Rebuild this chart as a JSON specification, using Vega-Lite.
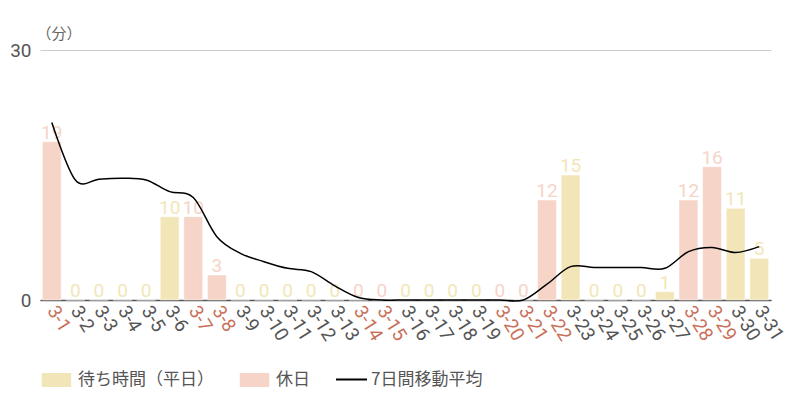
{
  "$schema": "https://vega.github.io/schema/vega-lite/v6.json",
  "autosize": {"type": "none"},
  "width": 731,
  "height": 250,
  "padding": {"left": 40, "top": 50, "right": 29, "bottom": 100},
  "data": {
    "values": [
      {"date": "3-1", "kind": "休日", "value": 19, "ma": 21.3},
      {"date": "3-2", "kind": "待ち時間（平日）", "value": 0, "ma": 14.4},
      {"date": "3-3", "kind": "待ち時間（平日）", "value": 0, "ma": 14.5},
      {"date": "3-4", "kind": "待ち時間（平日）", "value": 0, "ma": 14.6},
      {"date": "3-5", "kind": "待ち時間（平日）", "value": 0, "ma": 14.4},
      {"date": "3-6", "kind": "待ち時間（平日）", "value": 10, "ma": 13.0},
      {"date": "3-7", "kind": "休日", "value": 10, "ma": 12.3},
      {"date": "3-8", "kind": "休日", "value": 3, "ma": 7.6},
      {"date": "3-9", "kind": "待ち時間（平日）", "value": 0, "ma": 5.6},
      {"date": "3-10", "kind": "待ち時間（平日）", "value": 0, "ma": 4.6},
      {"date": "3-11", "kind": "待ち時間（平日）", "value": 0, "ma": 3.8},
      {"date": "3-12", "kind": "待ち時間（平日）", "value": 0, "ma": 3.4},
      {"date": "3-13", "kind": "待ち時間（平日）", "value": 0, "ma": 1.7},
      {"date": "3-14", "kind": "休日", "value": 0, "ma": 0.3},
      {"date": "3-15", "kind": "休日", "value": 0, "ma": 0},
      {"date": "3-16", "kind": "待ち時間（平日）", "value": 0, "ma": 0},
      {"date": "3-17", "kind": "待ち時間（平日）", "value": 0, "ma": 0},
      {"date": "3-18", "kind": "待ち時間（平日）", "value": 0, "ma": 0},
      {"date": "3-19", "kind": "待ち時間（平日）", "value": 0, "ma": 0},
      {"date": "3-20", "kind": "休日", "value": 0, "ma": 0},
      {"date": "3-21", "kind": "休日", "value": 0, "ma": 0},
      {"date": "3-22", "kind": "休日", "value": 12, "ma": 1.9},
      {"date": "3-23", "kind": "待ち時間（平日）", "value": 15, "ma": 4.0},
      {"date": "3-24", "kind": "待ち時間（平日）", "value": 0, "ma": 3.9},
      {"date": "3-25", "kind": "待ち時間（平日）", "value": 0, "ma": 3.9},
      {"date": "3-26", "kind": "待ち時間（平日）", "value": 0, "ma": 3.9},
      {"date": "3-27", "kind": "待ち時間（平日）", "value": 1, "ma": 3.8},
      {"date": "3-28", "kind": "休日", "value": 12, "ma": 5.8},
      {"date": "3-29", "kind": "休日", "value": 16, "ma": 6.3},
      {"date": "3-30", "kind": "待ち時間（平日）", "value": 11, "ma": 5.7},
      {"date": "3-31", "kind": "待ち時間（平日）", "value": 5, "ma": 6.4}
    ]
  },
  "encoding": {
    "x": {
      "field": "date",
      "type": "nominal",
      "sort": null,
      "scale": {"paddingInner": 0.2, "paddingOuter": 0.1},
      "axis": {
        "title": null,
        "labelAngle": 58,
        "labelAlign": "left",
        "labelBaseline": "middle",
        "labelPadding": 7,
        "labelFont": "Roboto",
        "labelFontSize": 19,
        "labelColor": {
          "condition": {
            "test": "indexof(['3-1','3-7','3-8','3-14','3-15','3-20','3-21','3-22','3-28','3-29'], datum.value) >= 0",
            "value": "#c8705a"
          },
          "value": "#555555"
        },
        "ticks": false,
        "domainColor": "#555555",
        "domainWidth": 1.5,
        "labelOverlap": false
      }
    }
  },
  "layer": [
    {
      "mark": {"type": "bar", "stroke": "#ffffff", "strokeOpacity": 0.5, "strokeWidth": 1},
      "encoding": {
        "y": {
          "field": "value",
          "type": "quantitative",
          "scale": {"domain": [0, 30]},
          "axis": {
            "values": [0, 30],
            "title": "（分）",
            "titleAngle": 0,
            "titleAlign": "left",
            "titleBaseline": "middle",
            "titleX": -4,
            "titleY": -17,
            "titleFont": "Noto Sans CJK JP",
            "titleFontSize": 15,
            "titleFontWeight": "normal",
            "titleColor": "#666666",
            "labelFont": "Roboto",
            "labelFontSize": 19,
            "labelColor": "#555555",
            "labelPadding": 9,
            "ticks": false,
            "domain": false,
            "gridColor": "#cccccc",
            "gridWidth": 1
          }
        },
        "color": {
          "field": "kind",
          "type": "nominal",
          "scale": {
            "domain": ["待ち時間（平日）", "休日"],
            "range": ["#f2e6b8", "#f6d4c8"]
          },
          "legend": {
            "title": null,
            "orient": "none",
            "legendX": 0,
            "legendY": 313,
            "direction": "horizontal",
            "columnPadding": 22,
            "labelFont": "Noto Sans CJK JP",
            "labelFontSize": 17,
            "labelColor": "#555555",
            "labelOffset": 5,
            "symbolSize": 961,
            "symbolType": "M-1,-0.5H1V0.5H-1Z",
            "symbolOpacity": 1
          }
        }
      }
    },
    {
      "mark": {
        "type": "text",
        "baseline": "bottom",
        "dy": 1,
        "font": "Roboto",
        "fontSize": 19
      },
      "encoding": {
        "y": {"field": "value", "type": "quantitative"},
        "text": {"field": "value", "type": "quantitative"},
        "color": {"field": "kind", "type": "nominal", "legend": null}
      }
    },
    {
      "mark": {"type": "line", "interpolate": "cardinal", "strokeWidth": 1.5},
      "encoding": {
        "y": {"field": "ma", "type": "quantitative", "title": "（分）"},
        "stroke": {
          "datum": "7日間移動平均",
          "scale": {"range": ["#000000"]},
          "legend": {
            "title": null,
            "orient": "none",
            "legendX": 295,
            "legendY": 313,
            "direction": "horizontal",
            "labelFont": "Noto Sans CJK JP",
            "labelFontSize": 17,
            "labelColor": "#555555",
            "labelOffset": 3,
            "symbolType": "stroke",
            "symbolSize": 961,
            "symbolStrokeWidth": 2
          }
        }
      }
    }
  ],
  "config": {
    "view": {"stroke": null}
  }
}
